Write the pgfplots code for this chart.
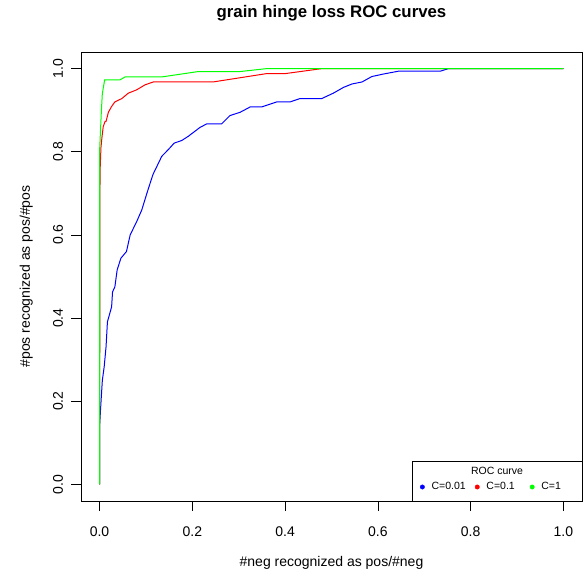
\documentclass[border=0pt]{standalone}
\usepackage{pgfplots}
\pgfplotsset{compat=1.18}
\usepackage{fontspec}
\setmainfont{Liberation Sans}
\begin{document}
\begin{tikzpicture}
\useasboundingbox (-81pt,-72pt) rectangle (506pt,501pt);
\begin{axis}[
  at={(0pt,0pt)}, anchor=south west,
  scale only axis, width=501pt, height=449pt,
  xmin=-0.04, xmax=1.04, ymin=-0.04, ymax=1.04,
  axis line style={black, line width=0.8pt},
  xtick={0,0.2,...,1}, ytick={0,0.2,...,1},
  tick align=outside, major tick length=9.5pt,
  tick style={black, line width=0.7pt},
  xtick pos=bottom, ytick pos=left,
  /pgf/number format/.cd, fixed, fixed zerofill, precision=1, assume math mode=true,
  /pgfplots/.cd,
  tick label style={font=\fontsize{14}{16}\selectfont},
  xticklabel style={anchor=base, yshift=-25.5pt},
  yticklabel style={xshift=-8.5pt, rotate=90, anchor=base},
  title={\textbf{grain hinge loss ROC curves}},
  title style={at={(axis description cs:0.5,1.0624)}, anchor=base, font=\fontsize{16.8}{19}\selectfont},
  xlabel={\#neg recognized as pos/\#neg},
  xlabel style={at={(axis description cs:0.5,-0.1448)}, anchor=base, font=\fontsize{14}{16}\selectfont},
  ylabel={\#pos recognized as pos/\#pos},
  ylabel style={at={(axis description cs:-0.1018,0.5)}, anchor=base, font=\fontsize{14}{16}\selectfont},
  legend columns=3,
  legend style={draw=none, fill=none, inner sep=0pt, at={(axis description cs:0.6766,0.0312)}, anchor=west,
    font=\fontsize{10.5}{12}\selectfont,
    /tikz/every odd column/.style={column sep=5pt}},
  legend image code/.code={\draw[#1] plot coordinates {(0pt,0pt)};},
]
\addplot[blue, line width=1pt, forget plot] coordinates {
(0,0) (0,0.138) (0.002,0.178) (0.006,0.25) (0.01,0.283) (0.014,0.331) (0.017,0.391)
(0.021,0.407) (0.026,0.427) (0.028,0.463) (0.033,0.475) (0.038,0.516) (0.046,0.544)
(0.058,0.56) (0.066,0.6) (0.08,0.632) (0.091,0.66) (0.102,0.70) (0.115,0.745)
(0.134,0.789) (0.148,0.805) (0.161,0.821) (0.177,0.827) (0.191,0.837) (0.217,0.859)
(0.231,0.867) (0.263,0.867) (0.281,0.887) (0.303,0.895) (0.325,0.908) (0.35,0.908)
(0.382,0.92) (0.411,0.92) (0.432,0.928) (0.479,0.928) (0.504,0.941) (0.526,0.955)
(0.544,0.963) (0.566,0.968) (0.587,0.981) (0.612,0.987) (0.645,0.994) (0.735,0.994)
(0.752,1.0) (1,1)};
\addplot[red, line width=1pt, forget plot] coordinates {
(0,0) (0.001,0.75) (0.003,0.81) (0.005,0.833) (0.008,0.861) (0.012,0.873) (0.014,0.873)
(0.019,0.895) (0.026,0.909) (0.033,0.92) (0.048,0.928) (0.062,0.941) (0.08,0.949)
(0.098,0.961) (0.116,0.968) (0.245,0.968) (0.36,0.988) (0.40,0.988) (0.479,1.0) (1,1)};
\addplot[green, line width=1pt, forget plot] coordinates {
(0,0) (0,0.80) (0.004,0.90) (0.006,0.94) (0.011,0.973) (0.044,0.973) (0.055,0.98)
(0.134,0.98) (0.213,0.993) (0.303,0.993) (0.36,1.0) (1,1)};
\addlegendimage{only marks, mark=*, mark size=2.2pt, blue}
\addlegendentry{\makebox[41.5pt][l]{C=0.01}}
\addlegendimage{only marks, mark=*, mark size=2.2pt, red}
\addlegendentry{\makebox[41.5pt][l]{C=0.1}}
\addlegendimage{only marks, mark=*, mark size=2.2pt, green}
\addlegendentry{C=1}
\draw[black, line width=0.8pt] (rel axis cs:0.6607,0) rectangle (rel axis cs:1,0.0891);
\node[anchor=base, font=\fontsize{10.5}{12}\selectfont] at (rel axis cs:0.8303,0.059) {ROC curve};
\end{axis}
\end{tikzpicture}
\end{document}
